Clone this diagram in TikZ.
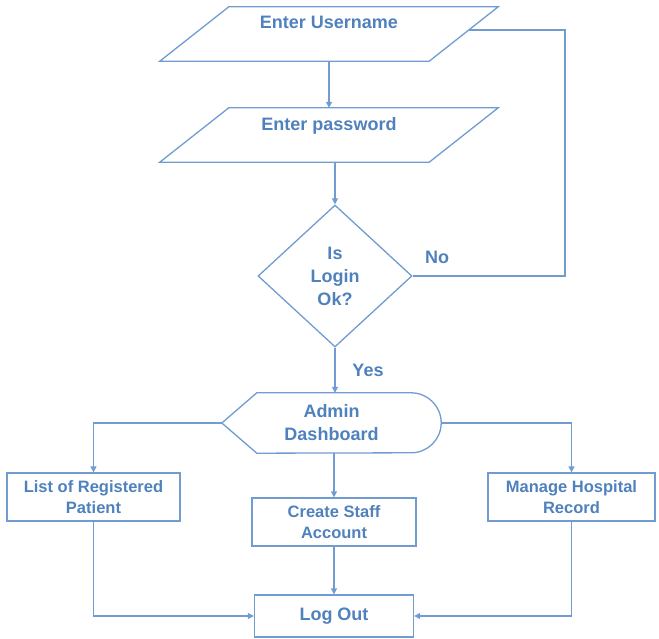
\documentclass[tikz,border=0pt]{standalone}
\usepackage{fontspec}
\setmainfont{Liberation Sans}
\usetikzlibrary{arrows.meta, positioning, shapes.geometric}
\definecolor{flowline}{RGB}{112,156,210}
\definecolor{flowtext}{RGB}{79,129,189}
\tikzset{
x=1pt, y=1pt, % one unit is one pixel of the sketch
every node/.style={text=flowtext, align=center, font=\bfseries\fontsize{18}{23}\selectfont},
conn/.style={draw=flowline, line width=1.3pt}, % plain connector
arr/.style={conn, -{Triangle[length=6pt,width=6pt]}}, % connector with a head
inbox/.style={minimum width=338pt, minimum height=54pt, inner sep=0pt}, % room for an input step
decision/.style={diamond, conn, aspect=1.085, minimum width=154pt, minimum height=142pt, inner sep=0pt},
process/.style={rectangle, conn, font=\bfseries\fontsize{16.5}{21}\selectfont},
}

\begin{document}
\begin{tikzpicture}
\useasboundingbox (0,0) rectangle (659,638);

\node[inbox, label={[yshift=12pt]center:Enter Username}] (user) at (329,604) {};
\node[inbox, label={[yshift=9pt]center:Enter password}] (pass) at (329,503) {};
% the two slanted input boxes
\foreach \io in {user, pass}
  \draw[conn] (\io.south west) -- ([xshift=-69pt]\io.south east) -- (\io.north east)
    -- ([xshift=69pt]\io.north west) -- cycle;
\node[decision] (diam) at (335,362) {Is\\Login\\Ok?};
\node[minimum width=219pt, minimum height=60pt] (dash) at (331.5,215) {Admin\\Dashboard};
\draw[conn] (dash.west) -- ([xshift=35pt]dash.north west) -- ([xshift=-30pt]dash.north east)
  arc[start angle=90, end angle=-90, radius=30pt] -- ([xshift=35pt]dash.south west) -- cycle;
\node[process, minimum width=173pt, minimum height=48pt] (list) at (93.5,141) {List of Registered\\Patient};
\node[process, minimum width=164pt, minimum height=48pt] (create) at (334,116) {Create Staff\\Account};
\node[process, minimum width=167pt, minimum height=48pt] (mng) at (571.5,141) {Manage Hospital\\Record};
\node[process, minimum width=159pt, minimum height=42pt, font=\bfseries\fontsize{18}{23}\selectfont] (logout) at (334,22) {Log Out};
\node (no) at (437,381) {No};
\node (yes) at (368,268) {Yes};
\coordinate (noturn) at (565,608);

\draw[arr] (user.south) -- (pass.north);
\draw[arr] (pass.south -| diam.north) -- (diam.north);
\draw[conn] (diam.east) -| (noturn) -- ([xshift=-29pt]user.east |- noturn);
\draw[arr] (diam.south) -- (diam.south |- dash.north);
\draw[arr] (dash.west) -| (list.north);
\draw[arr] (dash.east) -| (mng.north);
\draw[arr] (dash.south -| create.north) -- (create.north);
\draw[arr] (create.south) -- (logout.north);
\draw[arr] (list.south) |- (logout.west);
\draw[arr] (mng.south) |- (logout.east);
\end{tikzpicture}
\end{document}
